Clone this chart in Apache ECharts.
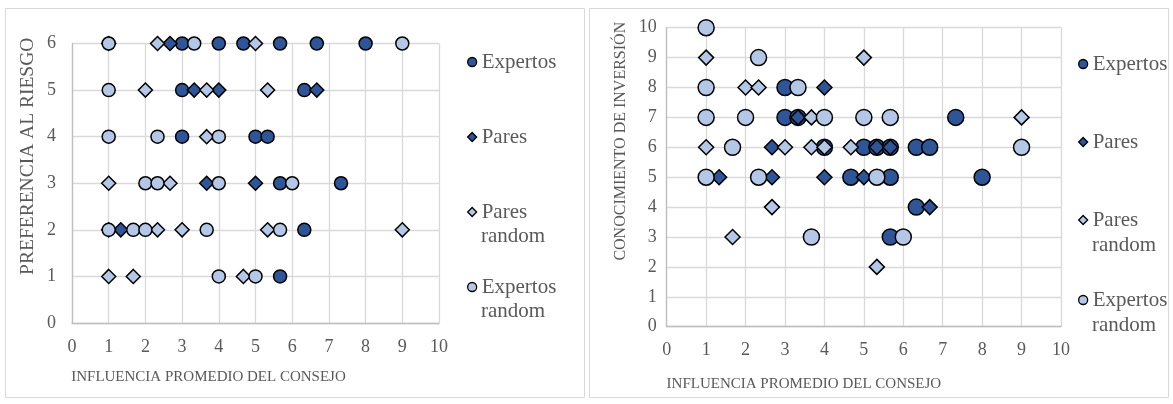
<!DOCTYPE html>
<html>
<head>
<meta charset="utf-8">
<script src="https://cdn.jsdelivr.net/npm/echarts@6/dist/echarts.min.js"></script>
<style>
  html, body { margin: 0; padding: 0; background: #fff; }
  #main { width: 1173px; height: 404px; }
</style>
</head>
<body>
<div id="main"></div>
<script>
// ---- datos: [influencia promedio, valor eje y] ----
// grafico izquierdo: preferencia al riesgo
var riesgoExpertos = [[3,6],[4,6],[4.67,6],[5.67,6],[6.67,6],[8,6],[3,5],[6.33,5],[3,4],[5,4],[5.33,4],[5.67,3],[7.33,3],[6.33,2],[5.67,1]];
var riesgoPares = [[2.67,6],[3.33,5],[4,5],[6.67,5],[3.67,3],[5,3],[1.33,2]];
var riesgoParesRandom = [[1,6],[2.33,6],[5,6],[2,5],[3.67,5],[5.33,5],[3.67,4],[1,3],[2.67,3],[1,2],[2.33,2],[3,2],[5.33,2],[9,2],[1,1],[1.67,1],[4.67,1]];
var riesgoExpertosRandom = [[1,6],[3.33,6],[9,6],[1,5],[1,4],[2.33,4],[4,4],[2,3],[2.33,3],[4,3],[6,3],[1,2],[1.67,2],[2,2],[3.67,2],[5.67,2],[4,1],[5,1]];

// grafico derecho: conocimiento de inversion
var conocExpertos = [[3,8],[3,7],[3.33,7],[7.33,7],[4,6],[5,6],[5.33,6],[5.67,6],[6.33,6],[6.67,6],[4.67,5],[5.67,5],[8,5],[6.33,4],[5.67,3]];
var conocPares = [[4,8],[3.33,7],[2.67,6],[5.33,6],[5.67,6],[1.33,5],[2.67,5],[4,5],[5,5],[6.67,4]];
var conocParesRandom = [[1,9],[5,9],[2,8],[2.33,8],[3.67,7],[9,7],[1,6],[3,6],[3.67,6],[4,6],[4.67,6],[2.67,4],[1.67,3],[5.33,2]];
var conocExpertosRandom = [[1,10],[2.33,9],[1,8],[3.33,8],[1,7],[2,7],[4,7],[5,7],[5.67,7],[1.67,6],[9,6],[1,5],[2.33,5],[5.33,5],[3.67,3],[6,3]];

var seriesNames = ['Expertos', 'Pares', 'Pares random', 'Expertos random'];

var oscuro = '#2F5597';
var claro = '#B4C7E7';
var gris = '#595959';
var fuente = 'Liberation Serif';

var myChart = echarts.init(document.getElementById('main'));

function serie(name, data, idx, symbol, color, size) {
  return {
    name: name,
    type: 'scatter',
    xAxisIndex: idx,
    yAxisIndex: idx,
    data: data,
    symbol: symbol,
    symbolSize: size,
    itemStyle: { color: color, borderColor: '#000', borderWidth: 1.5, opacity: 1 },
    emphasis: { disabled: true },
    z: 2
  };
}

// una leyenda por elemento; la segunda palabra ("random") va aparte, debajo
function leyenda(name, left, top, icon) {
  return {
    data: [{ name: name, icon: icon }],
    orient: 'vertical',
    left: left,
    top: top,
    padding: 0,
    itemWidth: 9,
    itemHeight: 9,
    selectedMode: false,
    formatter: function (n) { return n.split(' ')[0]; },
    itemStyle: { borderColor: '#000', borderWidth: 1.3 },
    textStyle: { fontFamily: fuente, fontSize: 21, color: gris, lineHeight: 24 }
  };
}

function segundaLinea(x, y) {
  return {
    type: 'text', left: x, top: y - 12, silent: true,
    style: { text: 'random', font: '21px "Liberation Serif"', fill: gris, lineHeight: 24 }
  };
}

function ejeX(idx) {
  return {
    gridIndex: idx,
    type: 'value',
    min: 0, max: 10, interval: 1,
    name: 'INFLUENCIA PROMEDIO DEL CONSEJO',
    nameLocation: 'middle',
    nameGap: idx === 0 ? 47 : 50,
    nameTextStyle: { fontFamily: fuente, fontSize: 15, color: gris, padding: [0, idx === 0 ? 94 : 120, 0, 0] },
    axisLine: { show: true, lineStyle: { color: '#BFBFBF', width: 1.3 } },
    axisTick: { show: false },
    axisLabel: { fontFamily: fuente, fontSize: 18, color: gris, margin: 15 },
    splitLine: { show: true, lineStyle: { color: '#D9D9D9', width: 1.3 } }
  };
}

option = {
  backgroundColor: '#fff',
  animation: false,
  graphic: [
    { type: 'rect', shape: { x: 5.5, y: 8.5, width: 579, height: 389 }, style: { fill: 'none', stroke: '#D9D9D9', lineWidth: 1 }, silent: true },
    { type: 'rect', shape: { x: 589.5, y: 8.5, width: 579, height: 389 }, style: { fill: 'none', stroke: '#D9D9D9', lineWidth: 1 }, silent: true },
    segundaLinea(481, 236),
    segundaLinea(481, 311),
    segundaLinea(1092, 245),
    segundaLinea(1092, 325)
  ],
  grid: [
    { left: 72, right: 734, top: 43.5, bottom: 81 },
    { left: 666.7, right: 112, top: 27.7, bottom: 77.3 }
  ],
  xAxis: [ejeX(0), ejeX(1)],
  yAxis: [
    {
      gridIndex: 0, type: 'value', min: 0, max: 6, interval: 1,
      name: 'PREFERENCIA AL RIESGO',
      nameLocation: 'middle', nameGap: 34,
      nameTextStyle: { fontFamily: fuente, fontSize: 19.5, color: gris, padding: [0, 0, 0, 54] },
      axisLine: { show: true, lineStyle: { color: '#BFBFBF', width: 1.3 } },
      axisTick: { show: false },
      axisLabel: { fontFamily: fuente, fontSize: 18, color: gris, margin: 16 },
      splitLine: { show: true, lineStyle: { color: '#D9D9D9', width: 1.3 } }
    },
    {
      gridIndex: 1, type: 'value', min: 0, max: 10, interval: 1,
      name: 'CONOCIMIENTO DE INVERSIÓN',
      nameLocation: 'middle', nameGap: 38,
      nameTextStyle: { fontFamily: fuente, fontSize: 16, color: gris, padding: [0, 0, 0, 72] },
      axisLine: { show: true, lineStyle: { color: '#BFBFBF', width: 1.3 } },
      axisTick: { show: false },
      axisLabel: { fontFamily: fuente, fontSize: 18, color: gris, margin: 10 },
      splitLine: { show: true, lineStyle: { color: '#D9D9D9', width: 1.3 } }
    }
  ],
  legend: [
    leyenda(seriesNames[0], 467, 50, 'circle'),
    leyenda(seriesNames[1], 467, 125, 'diamond'),
    leyenda(seriesNames[2], 467, 200, 'diamond'),
    leyenda(seriesNames[3], 467, 275, 'circle'),
    leyenda(seriesNames[0], 1078, 52, 'circle'),
    leyenda(seriesNames[1], 1078, 130, 'diamond'),
    leyenda(seriesNames[2], 1078, 208, 'diamond'),
    leyenda(seriesNames[3], 1078, 288, 'circle')
  ],
  series: [
    serie(seriesNames[0], riesgoExpertos, 0, 'circle', oscuro, 13),
    serie(seriesNames[1], riesgoPares, 0, 'diamond', oscuro, 14),
    serie(seriesNames[2], riesgoParesRandom, 0, 'diamond', claro, 14),
    serie(seriesNames[3], riesgoExpertosRandom, 0, 'circle', claro, 13),
    serie(seriesNames[0], conocExpertos, 1, 'circle', oscuro, 16),
    serie(seriesNames[1], conocPares, 1, 'diamond', oscuro, 15),
    serie(seriesNames[2], conocParesRandom, 1, 'diamond', claro, 15),
    serie(seriesNames[3], conocExpertosRandom, 1, 'circle', claro, 16)
  ]
};

myChart.setOption(option);
</script>
</body>
</html>
